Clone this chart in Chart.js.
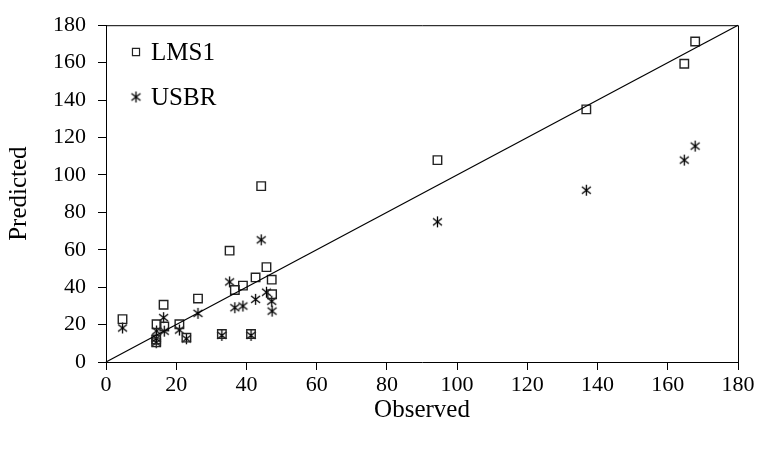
<!DOCTYPE html>
<html>
<head>
<meta charset="utf-8">
<script src="https://cdn.jsdelivr.net/npm/chart.js@4.4.1/dist/chart.umd.min.js"></script>
<style>
  html, body { margin: 0; padding: 0; background: #fff; }
  canvas { display: block; }
</style>
</head>
<body>
<canvas id="chart" width="758" height="452"></canvas>
<script>
// values
const observed = [4.7, 14.4, 14.3, 14.3, 16.4, 16.6, 20.9, 22.9, 26.2, 33.0, 35.2, 36.7, 39.0, 41.3, 42.6, 44.2, 45.7, 47.2, 47.3, 94.4, 136.8, 164.7, 167.8];
const lms1 = [22.9, 20.2, 10.5, 12.0, 30.6, 19.0, 20.2, 13.0, 33.9, 15.0, 59.5, 38.5, 40.8, 15.0, 45.2, 94.0, 50.7, 44.0, 36.2, 107.9, 135.0, 159.4, 171.3];
const usbr = [18.2, 16.6, 10.3, 12.5, 23.7, 16.5, 17.1, 12.4, 26.0, 14.2, 42.8, 29.0, 29.9, 14.2, 33.5, 65.3, 37.3, 32.5, 27.2, 74.9, 91.8, 107.9, 115.4];
const seriesNames = ['LMS1', 'USBR'];
const tickValues = [0, 20, 40, 60, 80, 100, 120, 140, 160, 180];
const oneToOne = [0, 180];

const FONT = "'Liberation Serif', 'Times New Roman', serif";

function pairs(xs, ys){
  return xs.map((x, i) => ({ x: x, y: ys[i] }));
}

// asterisk marker (X with a vertical bar)
function makeStar(){
  const c = document.createElement('canvas');
  c.width = 13; c.height = 13;
  const g = c.getContext('2d');
  g.strokeStyle = '#000';
  g.lineWidth = 1.3;
  g.beginPath();
  g.moveTo(6.5, 1); g.lineTo(6.5, 12);
  g.moveTo(2, 3); g.lineTo(11, 10);
  g.moveTo(2, 10); g.lineTo(11, 3);
  g.stroke();
  return c;
}
const starImg = makeStar();

const boxPlugin = {
  id: 'box',
  afterDatasetsDraw(chart){
    const { ctx, chartArea: a } = chart;
    ctx.save();
    ctx.strokeStyle = '#000';
    ctx.lineWidth = 1;
    ctx.beginPath();
    ctx.moveTo(a.left, a.top + 0.5);
    ctx.lineTo(a.right + 0.5, a.top + 0.5);
    ctx.lineTo(a.right + 0.5, a.bottom);
    ctx.stroke();
    ctx.restore();
  }
};

const legendPlugin = {
  id: 'innerLegend',
  afterDraw(chart){
    const ctx = chart.ctx;
    const a = chart.chartArea;
    const items = [
      { style: 'rect', y: 52 },
      { style: starImg, y: 97 }
    ];
    items.forEach((it, i) => {
      ctx.save();
      ctx.fillStyle = '#fff';
      ctx.strokeStyle = '#222';
      ctx.lineWidth = 1.2;
      Chart.helpers.drawPoint(ctx, {
        pointStyle: it.style, radius: 5, borderWidth: 1.2, rotation: 0
      }, a.left + 30, it.y);
      ctx.restore();
      ctx.save();
      ctx.font = '25px ' + FONT;
      ctx.fillStyle = '#000';
      ctx.textBaseline = 'middle';
      ctx.fillText(seriesNames[i], a.left + 45, it.y + 1);
      ctx.restore();
    });
  }
};

function axis(title, isX){
  return {
    type: 'linear',
    min: 0,
    max: 180,
    afterBuildTicks: s => { s.ticks = tickValues.map(v => ({ value: v })); },
    afterFit: s => { if (isX) s.height = 90; else s.width = 106; },
    ticks: {
      color: '#000',
      font: { family: FONT, size: 22 },
      padding: isX ? 2 : 12,
      maxRotation: 0,
      autoSkip: false
    },
    grid: {
      drawOnChartArea: false,
      color: '#000',
      tickLength: 8,
      lineWidth: 1
    },
    border: { color: '#000', width: 1 },
    title: {
      display: true,
      text: title,
      color: '#000',
      font: { family: FONT, size: 25 },
      padding: isX ? { top: 0, bottom: 27 } : { top: 4, bottom: 0 }
    }
  };
}

new Chart(document.getElementById('chart'), {
  type: 'scatter',
  data: {
    datasets: [
      {
        label: '1:1',
        data: pairs(oneToOne, oneToOne),
        showLine: true,
        borderColor: '#000',
        borderWidth: 1.2,
        pointRadius: 0,
        fill: false
      },
      {
        label: seriesNames[0],
        data: pairs(observed, lms1),
        pointStyle: 'rect',
        pointRadius: 6,
        borderColor: '#222',
        borderWidth: 1.4,
        backgroundColor: 'rgba(0,0,0,0)'
      },
      {
        label: seriesNames[1],
        data: pairs(observed, usbr),
        pointStyle: starImg,
        pointRadius: 6
      }
    ]
  },
  options: {
    responsive: false,
    animation: false,
    clip: false,
    layout: { padding: { left: 0, top: 18, right: 20, bottom: 0 } },
    plugins: {
      legend: { display: false },
      tooltip: { enabled: false }
    },
    scales: {
      x: axis('Observed', true),
      y: axis('Predicted', false)
    }
  },
  plugins: [boxPlugin, legendPlugin]
});
</script>
</body>
</html>
